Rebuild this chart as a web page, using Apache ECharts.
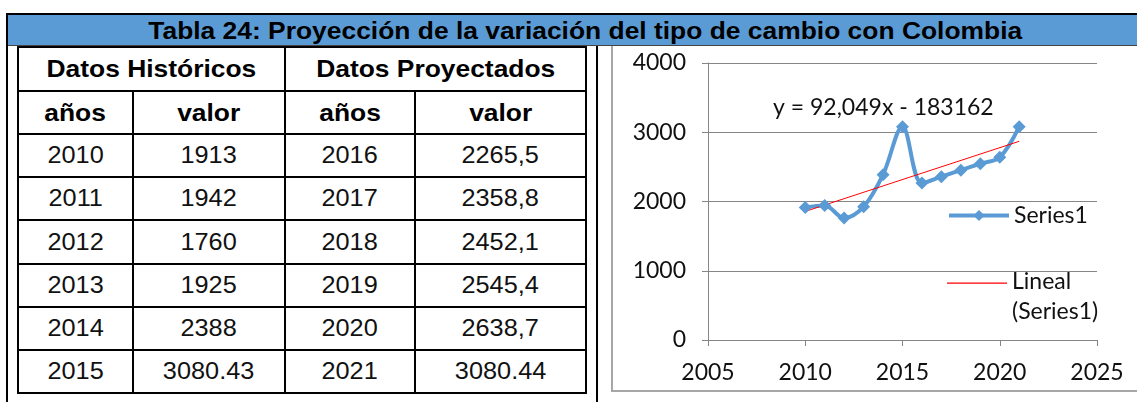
<!DOCTYPE html>
<html>
<head>
<meta charset="utf-8">
<script src="https://cdn.jsdelivr.net/npm/echarts@6/dist/echarts.min.js"></script>
<style>
  html, body { margin: 0; padding: 0; background: #fff; }
  body { width: 1137px; height: 402px; position: relative; overflow: hidden; font-family: "Liberation Sans", Arial, sans-serif; }
  .frame-left { position: absolute; left: 6px; top: 14px; width: 2px; height: 400px; background: #000; }
  .frame-mid { position: absolute; left: 596px; top: 46px; width: 2px; height: 360px; background: #000; }
  .title-bar {
    position: absolute; left: 6px; top: 13px; width: 1158px; height: 30px;
    background: #5b9bd5; border-top: 2px solid #000; border-bottom: 1px solid #444;
    font-weight: bold; font-size: 24px; line-height: 31px; color: #000; white-space: nowrap; text-align: center;
  }
  .sx { display: inline-block; transform: scaleX(1.1); }
  table.data {
    position: absolute; left: 17px; top: 46px; border-collapse: collapse;
    border: 2px solid #000; table-layout: fixed;
  }
  table.data td { border: 2px solid #000; padding: 0; text-align: center; font-size: 23px; color: #111; }
  table.data tr.head td { font-weight: bold; font-size: 24px; color: #000; }
  .chart-box {
    position: absolute; left: 611px; top: 46px; width: 560px; height: 344px;
    border-left: 2px solid #a6a6a6; border-bottom: 2px solid #a6a6a6;
  }
  #chart { position: absolute; left: 613px; top: 46px; width: 524px; height: 344px; }
</style>
</head>
<body>
<div class="title-bar"><span class="sx">Tabla 24: Proyección de la variación del tipo de cambio con Colombia</span></div>
<div class="frame-left"></div>
<div class="frame-mid"></div>
<table class="data" id="tbl"></table>
<div class="chart-box"></div>
<div id="chart"></div>
<script>
// historical and projected values, as printed in the table
const histYears = [2010, 2011, 2012, 2013, 2014, 2015]
const histLabels = ['1913', '1942', '1760', '1925', '2388', '3080.43']
const projYears = [2016, 2017, 2018, 2019, 2020, 2021]
const projLabels = ['2265,5', '2358,8', '2452,1', '2545,4', '2638,7', '3080.44']

// linear trend end points (Excel trendline)
const trendYears = [2010, 2021]
const trendValues = [1857, 2869]
const trendText = 'y = 92,049x - 183162'

const xTicks = { min: 2005, max: 2025, interval: 5 }
const yTicks = { min: 0, max: 4000, interval: 1000 }

const toNum = (s) => parseFloat(s.replace(',', '.'))
const cell = (t) => `<td><span class="sx">${t}</span></td>`

// table
const colWidths = [115, 152, 130, 171]
const rowHeights = [44, 43, 43, 43, 44, 43, 43, 43]
let html = '<colgroup>' + colWidths.map((w) => `<col style="width:${w}px">`).join('') + '</colgroup>'
html += `<tr class="head" style="height:${rowHeights[0]}px"><td colspan="2"><span class="sx">Datos Históricos</span></td><td colspan="2"><span class="sx">Datos Proyectados</span></td></tr>`
html += `<tr class="head" style="height:${rowHeights[1]}px">${cell('años')}${cell('valor')}${cell('años')}${cell('valor')}</tr>`
histYears.forEach((y, i) => {
  html += `<tr style="height:${rowHeights[i + 2]}px">${cell(y)}${cell(histLabels[i])}${cell(projYears[i])}${cell(projLabels[i])}</tr>`
})
document.getElementById('tbl').innerHTML = html

// chart
const seriesData = histYears.map((y, i) => [y, toNum(histLabels[i])])
  .concat(projYears.map((y, i) => [y, toNum(projLabels[i])]))
const trendData = trendYears.map((y, i) => [y, trendValues[i]])

const axisGray = '#868686'
const chartFont = 'Lato, "Open Sans", sans-serif'
const fs = 23
// thin red bar at the height of the first text line, bbox padded to the two-line block
const trendIcon = 'path://M0,0L0.01,0L0,0.01Z M0,14.5H60V15.8H0Z M0,58L0.01,58L0,57.99Z'

const chart = echarts.init(document.getElementById('chart'))
chart.setOption({
  animation: false,
  textStyle: { fontFamily: chartFont },
  grid: { left: 95, top: 17, width: 389, height: 277 },
  title: {
    text: trendText, left: 160, top: 50, padding: 0,
    textStyle: { fontFamily: chartFont, fontSize: fs, fontWeight: 'normal', color: '#111' },
  },
  legend: [
    {
      data: ['Series1'], left: 334, top: 158, padding: 0, itemWidth: 60, itemHeight: 14,
      lineStyle: { width: 4 },
      textStyle: { fontSize: fs, color: '#111' },
    },
    {
      data: [{ name: 'Lineal (Series1)', icon: trendIcon }], left: 334, top: 221, padding: 0,
      itemWidth: 60, itemHeight: 58,
      itemStyle: { color: '#ff0000' },
      formatter: () => 'Lineal\n(Series1)',
      textStyle: { fontSize: fs, color: '#111', lineHeight: 30 },
    },
  ],
  xAxis: {
    type: 'value', ...xTicks,
    axisLine: { lineStyle: { color: axisGray, width: 1 } },
    axisTick: { show: true, length: 6, inside: false, lineStyle: { color: axisGray } },
    axisLabel: { fontSize: fs, color: '#111', margin: 21, formatter: (v) => String(v) },
    splitLine: { show: false },
  },
  yAxis: {
    type: 'value', ...yTicks,
    axisLine: { show: true, lineStyle: { color: axisGray, width: 1 } },
    axisTick: { show: true, length: 6, lineStyle: { color: axisGray } },
    axisLabel: { fontSize: fs, color: '#111', margin: 22, formatter: (v) => String(v) },
    splitLine: { show: true, lineStyle: { color: axisGray, width: 1 } },
  },
  series: [
    {
      name: 'Series1', type: 'line', data: seriesData, smooth: 0.35,
      symbol: 'diamond', symbolSize: 13,
      lineStyle: { color: '#5b9bd5', width: 4 },
      itemStyle: { color: '#5b9bd5' },
    },
    {
      name: 'Lineal (Series1)', type: 'line', data: trendData,
      symbol: 'none', lineStyle: { color: '#ff0000', width: 1 },
      itemStyle: { color: '#ff0000' },
    },
  ],
})
</script>
</body>
</html>
